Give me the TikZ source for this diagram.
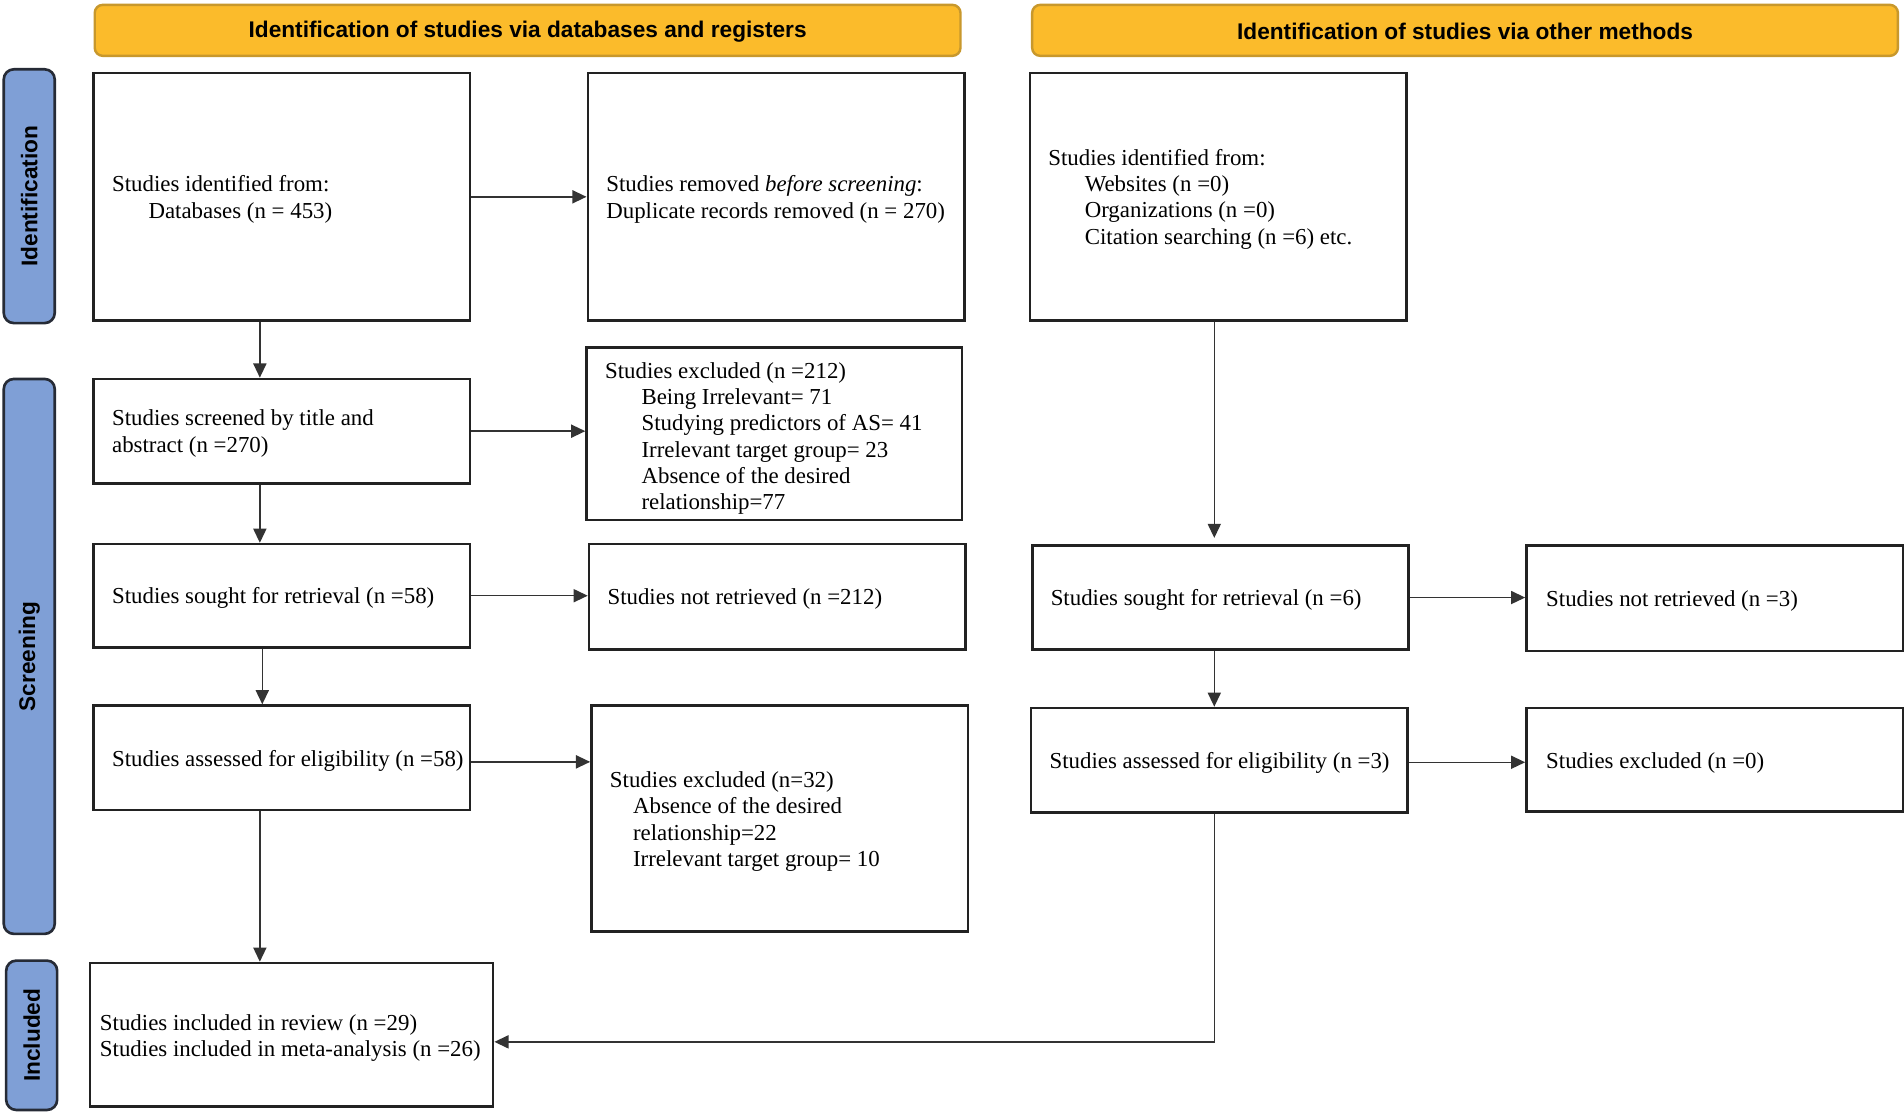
\documentclass[tikz,border=0pt]{standalone}
\usepackage{fontspec}
\setmainfont{Liberation Serif}
\setsansfont{Liberation Sans}
\usetikzlibrary{arrows.meta,calc}
\definecolor{hdrfill}{HTML}{FBBB2B}
\definecolor{hdrdraw}{HTML}{C8982C}
\definecolor{sidefill}{HTML}{7F9FD6}
\definecolor{sidedraw}{HTML}{262B36}
\definecolor{boxdraw}{HTML}{222222}
\definecolor{arrdraw}{HTML}{333333}
\begin{document}
\begin{tikzpicture}[x=0.6pt,y=-0.6pt,
 box/.style={draw=boxdraw, line width=1.3pt, fill=white, inner sep=0pt, anchor=north west},
 txt/.style={anchor=west, align=left, inner sep=0pt, font=\fontsize{11.3}{13}\selectfont},
 hdr/.style={draw=hdrdraw, line width=1.2pt, fill=hdrfill, rounded corners=4pt, anchor=north west, inner sep=0pt, minimum width=427.8pt, minimum height=25.2pt},
 hdrtxt/.style={font=\sffamily\bfseries\fontsize{11.2}{13}\selectfont, inner sep=0pt},
 side/.style={draw=sidedraw, line width=1.3pt, fill=sidefill, rounded corners=5pt, anchor=north west, inner sep=0pt, minimum width=25.2pt},
 sidetxt/.style={rotate=90, inner sep=0pt, font=\sffamily\bfseries\fontsize{11.2}{13}\selectfont},
 arr/.style={draw=arrdraw, line width=0.7pt, -{Triangle[length=7pt,width=6.5pt]}}
]
\useasboundingbox (0,0) rectangle (1568,916);
\fill[white] (0,0) rectangle (1568,916);

% headers
\node[hdr] (h1) at (77,3) {};
\node[hdrtxt] (h1t) at ([yshift=-0.5pt]h1.center) {Identification of studies via databases and registers};
\node[hdr] (h2) at (849,3) {};
\node[hdrtxt] (h2t) at ([yshift=-0.5pt]h2.center) {Identification of studies via other methods};

% side bars
\node[side, minimum height=125.4pt] (s1) at (2,56) {};
\node[sidetxt] (s1t) at (s1.center) {Identification};
\node[side, minimum height=274.2pt] (s2) at (2,311) {};
\node[sidetxt] (s2t) at (s2.center) {Screening};
\node[side, minimum height=73.8pt] (s3) at (4,790) {};
\node[sidetxt] (s3t) at (s3.center) {Included};

% boxes
\node[box, minimum width=186pt, minimum height=122.4pt] (A) at (76,59) {};
\node[txt] (At) at ([xshift=9.6pt,yshift=-1.2pt]A.west) {Studies identified from:\\\hspace*{18pt}Databases (n = 453)};

\node[box, minimum width=186pt, minimum height=122.4pt] (B) at (483,59) {};
\node[txt] (Bt) at ([xshift=9.6pt,yshift=-1.2pt]B.west) {Studies removed \textit{before screening}:\\Duplicate records removed (n = 270)};

\node[box, minimum width=186pt, minimum height=51.6pt] (C) at (76,311) {};
\node[txt] (Ct) at ([xshift=9.6pt,yshift=-1.2pt]C.west) {Studies screened by title and\\abstract (n =270)};

\node[box, minimum width=185.4pt, minimum height=85.2pt] (D) at (482,285) {};
\node[txt] (Dt) at ([xshift=9.6pt,yshift=-2.4pt]D.west) {Studies excluded (n =212)\\\hspace*{18pt}Being Irrelevant= 71\\\hspace*{18pt}Studying predictors of AS= 41\\\hspace*{18pt}Irrelevant target group= 23\\\hspace*{18pt}Absence of the desired\\\hspace*{18pt}relationship=77};

\node[box, minimum width=186pt, minimum height=51pt] (E) at (76,447) {};
\node[txt] (Et) at ([xshift=9.6pt,yshift=-1.2pt]E.west) {Studies sought for retrieval (n =58)};

\node[box, minimum width=186pt, minimum height=52.2pt] (F) at (484,447) {};
\node[txt] (Ft) at ([xshift=9.6pt,yshift=-1.2pt]F.west) {Studies not retrieved (n =212)};

\node[box, minimum width=186pt, minimum height=51.6pt] (G) at (76,580) {};
\node[txt] (Gt) at ([xshift=9.6pt,yshift=-1.5pt]G.west) {Studies assessed for eligibility (n =58)};

\node[box, minimum width=186pt, minimum height=111.6pt] (H) at (486,580) {};
\node[txt] (Ht) at ([xshift=9.6pt,yshift=-1.5pt]H.west) {Studies excluded (n=32)\\\hspace*{11.4pt}Absence of the desired\\\hspace*{11.4pt}relationship=22\\\hspace*{11.4pt}Irrelevant target group= 10};

\node[box, minimum width=199.2pt, minimum height=70.8pt] (I) at (73,792) {};
\node[txt] (It) at ([xshift=5.4pt,yshift=-1.8pt]I.west) {Studies included in review (n =29)\\Studies included in meta-analysis (n =26)};

\node[box, minimum width=186pt, minimum height=122.4pt] (J) at (847,59) {};
\node[txt] (Jt) at ([xshift=9.6pt,yshift=-1.2pt]J.west) {Studies identified from:\\\hspace*{18pt}Websites (n =0)\\\hspace*{18pt}Organizations (n =0)\\\hspace*{18pt}Citation searching (n =6) etc.};

\node[box, minimum width=186pt, minimum height=51.6pt] (K) at (849,448) {};
\node[txt] (Kt) at ([xshift=9.6pt,yshift=-1.2pt]K.west) {Studies sought for retrieval (n =6)};

\node[box, minimum width=186pt, minimum height=52.2pt] (L) at (1256,448) {};
\node[txt] (Lt) at ([xshift=10.2pt,yshift=-1.2pt]L.west) {Studies not retrieved (n =3)};

\node[box, minimum width=186pt, minimum height=51.6pt] (M) at (848,582) {};
\node[txt] (Mt) at ([xshift=9.6pt,yshift=-1.5pt]M.west) {Studies assessed for eligibility (n =3)};

\node[box, minimum width=186pt, minimum height=51pt] (N) at (1256,582) {};
\node[txt] (Nt) at ([xshift=10.2pt,yshift=-1.5pt]N.west) {Studies excluded (n =0)};

% guide coordinates for vertical connectors
\coordinate (xa) at (214,0);
\coordinate (xe) at (216,0);
\coordinate (xr) at (1000,0);
\coordinate (yi) at (0,858);

% arrows left column
\draw[arr] (A.east) -- (A.east -| B.west);
\draw[arr] (A.south -| xa) -- (C.north -| xa);
\draw[arr] (C.east) -- (C.east -| D.west);
\draw[arr] (C.south -| xa) -- (E.north -| xa);
\draw[arr] (E.east) -- (E.east -| F.west);
\draw[arr] (E.south -| xe) -- (G.north -| xe);
\draw[arr] ([yshift=-2pt]G.east) -- ([yshift=-2pt]G.east -| H.west);
\draw[arr] (G.south -| xa) -- (I.north -| xa);

% arrows right column
\draw[arr] (J.south -| xr) -- ([yshift=3pt]K.north -| xr);
\draw[arr] (K.east) -- (K.east -| L.west);
\draw[arr] (K.south -| xr) -- (M.north -| xr);
\draw[arr] ([yshift=-1pt]M.east) -- ([yshift=-1pt]M.east -| N.west);
\draw[arr] (M.south -| xr) -- (xr |- yi) -- (I.east |- yi);
\end{tikzpicture}
\end{document}
